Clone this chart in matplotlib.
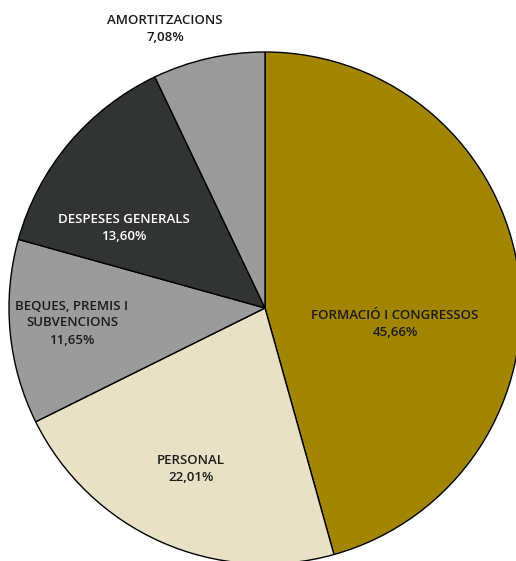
import matplotlib
matplotlib.use("Agg")
import matplotlib.pyplot as plt

labels = ["FORMACIÓ I CONGRESSOS", "PERSONAL", "BEQUES, PREMIS I\nSUBVENCIONS",
          "DESPESES GENERALS", "AMORTITZACIONS"]
values = [45.66, 22.01, 11.65, 13.60, 7.08]
colors = ["#A28500", "#E9E1C5", "#9A9B9A", "#323434", "#9A9B9A"]
text_colors = ["#1a1a1a", "#1a1a1a", "#1a1a1a", "#ffffff", "#1a1a1a"]
# label anchor (x, y) in pixel-like data units, centre of pie at (0, 0)
label_pos = [(130, -16), (-74, -161), (-193, -15), (-141, 80), (-100, 279)]

plt.rcParams["font.family"] = ["Open Sans", "DejaVu Sans"]

fig = plt.figure(figsize=(5.16, 5.61), dpi=100)
ax = fig.add_axes([0, 0, 1, 1])
ax.pie(values, colors=colors, startangle=90, counterclock=False, radius=256,
       wedgeprops=dict(edgecolor="black", linewidth=1.0), frame=True)
ax.set_xlim(-265, 251)
ax.set_ylim(-253, 308)
ax.set_aspect("auto")
ax.axis("off")

for lab, v, (x, y), tc in zip(labels, values, label_pos, text_colors):
    pct = f"{v:.2f}%".replace(".", ",")
    ax.text(x, y, f"{lab}\n{pct}", ha="center", va="center", fontsize=9.5,
            color=tc, linespacing=1.4, fontweight="semibold")

fig.savefig("out.png", dpi=100)
